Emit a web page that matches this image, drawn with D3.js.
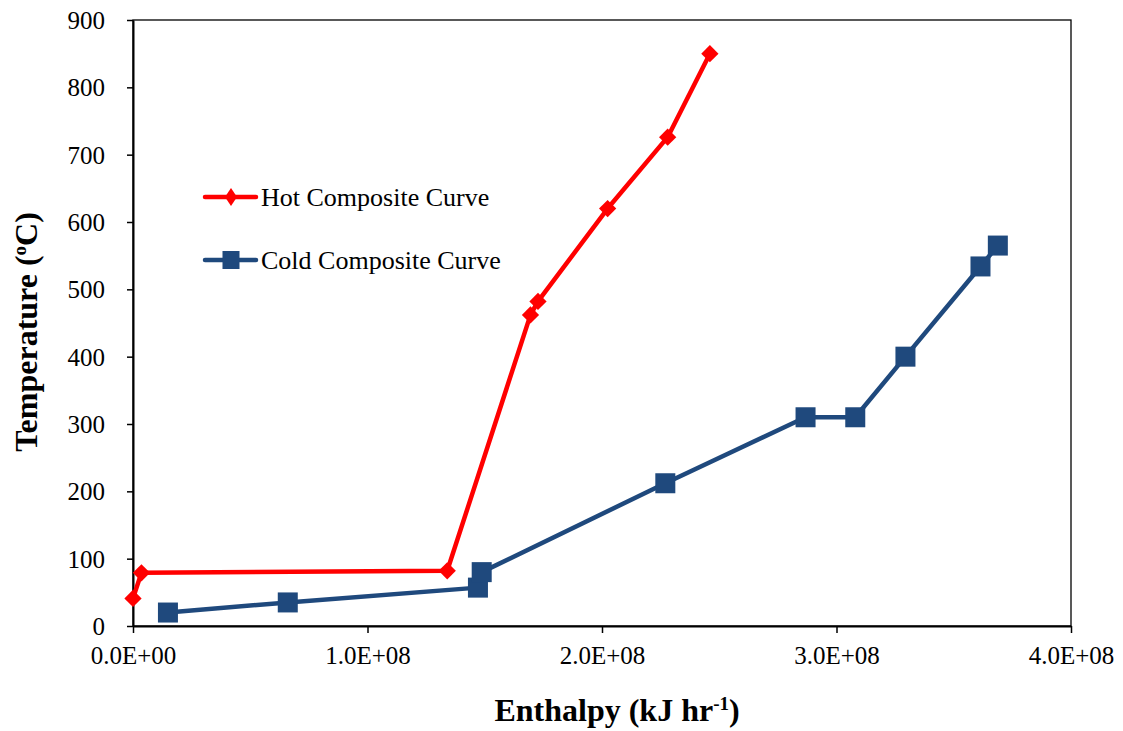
<!DOCTYPE html>
<html>
<head>
<meta charset="utf-8">
<script src="https://cdn.jsdelivr.net/npm/d3@7"></script>
<style>
  html, body { margin: 0; padding: 0; background: #fff; }
  svg { display: block; font-family: "Liberation Serif", "Times New Roman", serif; }
</style>
</head>
<body>
<svg id="chart" width="1123" height="731"></svg>
<script>
// Hot composite curve (enthalpy in kJ/hr, temperature in °C)
const hotEnthalpy = [0, 3.6e6, 1.34e8, 1.695e8, 1.727e8, 2.024e8, 2.28e8, 2.46e8];
const hotTemp     = [41, 79, 82, 462, 482, 620, 726, 850];

// Cold composite curve
const coldEnthalpy = [1.49e7, 6.6e7, 1.471e8, 1.487e8, 2.27e8, 2.868e8, 3.08e8, 3.294e8, 3.614e8, 3.688e8];
const coldTemp     = [20, 35, 57, 80, 212, 310, 310, 400, 534, 565];

const xTicks = [0, 1e8, 2e8, 3e8, 4e8];
const xTickLabels = ["0.0E+00", "1.0E+08", "2.0E+08", "3.0E+08", "4.0E+08"];
const yTicks = [0, 100, 200, 300, 400, 500, 600, 700, 800, 900];

const seriesNames = ["Hot Composite Curve", "Cold Composite Curve"];
const seriesColors = ["#ff0000", "#1f497d"];

const FONT = "'Liberation Serif', 'Times New Roman', serif";
const svg = d3.select("#chart");
const plot = { left: 133, right: 1071, top: 20, bottom: 626 };

const x = d3.scaleLinear().domain([0, 4e8]).range([plot.left, plot.right]);
const y = d3.scaleLinear().domain([0, 900]).range([plot.bottom, plot.top]);

// plot frame
svg.append("rect")
  .attr("x", plot.left).attr("y", plot.top)
  .attr("width", plot.right - plot.left).attr("height", plot.bottom - plot.top)
  .attr("fill", "none").attr("stroke", "#000").attr("stroke-width", 1.3);

// axes
const xAxis = d3.axisBottom(x).tickValues(xTicks)
  .tickFormat((d, i) => xTickLabels[i]).tickSize(7).tickSizeOuter(0);
const gx = svg.append("g").attr("transform", `translate(0,${plot.bottom})`).call(xAxis);
gx.attr("font-family", FONT);
gx.select(".domain").attr("stroke", "#000").attr("stroke-width", 2);
gx.selectAll(".tick line").attr("stroke", "#000").attr("stroke-width", 1.5);
gx.selectAll(".tick text")
  .attr("font-size", 25).attr("fill", "#000").attr("dy", 0).attr("y", 38);

const yAxis = d3.axisLeft(y).tickValues(yTicks).tickSize(6).tickSizeOuter(0);
const gy = svg.append("g").attr("transform", `translate(${plot.left},0)`).call(yAxis);
gy.attr("font-family", FONT);
gy.select(".domain").attr("stroke", "#000").attr("stroke-width", 2);
gy.selectAll(".tick line").attr("stroke", "#000").attr("stroke-width", 1.5);
gy.selectAll(".tick text")
  .attr("font-size", 25).attr("fill", "#000").attr("x", -28).attr("dy", "0.34em");

// axis titles
const yTitle = svg.append("text")
  .attr("transform", `translate(37,${(plot.top + plot.bottom) / 2 + 9}) rotate(-90)`)
  .attr("text-anchor", "middle").attr("font-family", FONT)
  .attr("font-size", 32).attr("font-weight", "bold").attr("fill", "#000");
yTitle.append("tspan").text("Temperature (");
yTitle.append("tspan").attr("font-size", 19).attr("dy", -11).text("o");
yTitle.append("tspan").attr("dy", 11).text("C)");

const xTitle = svg.append("text")
  .attr("x", 617).attr("y", 721)
  .attr("text-anchor", "middle").attr("font-family", FONT)
  .attr("font-size", 32).attr("font-weight", "bold").attr("fill", "#000");
xTitle.append("tspan").text("Enthalpy (kJ hr");
xTitle.append("tspan").attr("font-size", 19).attr("dy", -11).text("-1");
xTitle.append("tspan").attr("dy", 11).text(")");

// series
const hot = hotEnthalpy.map((h, i) => ({ h, t: hotTemp[i] }));
const cold = coldEnthalpy.map((h, i) => ({ h, t: coldTemp[i] }));

const line = d3.line().x(d => x(d.h)).y(d => y(d.t));

svg.append("path").datum(hot)
  .attr("d", line).attr("fill", "none")
  .attr("stroke", seriesColors[0]).attr("stroke-width", 4.5).attr("stroke-linejoin", "round");

const diamond = d3.symbol().type(d3.symbolDiamond2).size(190);
svg.append("g").selectAll("path").data(hot).join("path")
  .attr("d", diamond)
  .attr("transform", d => `translate(${x(d.h)},${y(d.t)})`)
  .attr("fill", seriesColors[0]);

svg.append("path").datum(cold)
  .attr("d", line).attr("fill", "none")
  .attr("stroke", seriesColors[1]).attr("stroke-width", 4.5).attr("stroke-linejoin", "round");

const square = 20;
svg.append("g").selectAll("rect").data(cold).join("rect")
  .attr("x", d => x(d.h) - square / 2).attr("y", d => y(d.t) - square / 2)
  .attr("width", square).attr("height", square)
  .attr("fill", seriesColors[1]);

// legend
const legendY = [197, 260];
const lg = svg.append("g");
seriesNames.forEach((name, i) => {
  const ly = legendY[i];
  lg.append("line").attr("x1", 205).attr("x2", 256).attr("y1", ly).attr("y2", ly)
    .attr("stroke", seriesColors[i]).attr("stroke-width", 4.5)
    .attr("stroke-linecap", "round");
  if (i === 0) {
    lg.append("path").attr("d", "M0,-9L6,0L0,9L-6,0Z")
      .attr("transform", `translate(231,${ly})`).attr("fill", seriesColors[0]);
  } else {
    lg.append("rect").attr("x", 231 - 8.5).attr("y", ly - 9)
      .attr("width", 17).attr("height", 18).attr("fill", seriesColors[1]);
  }
  lg.append("text").attr("x", 261).attr("y", ly + 8.5)
    .attr("font-family", FONT).attr("font-size", 26).attr("fill", "#000").text(name);
});
</script>
</body>
</html>
